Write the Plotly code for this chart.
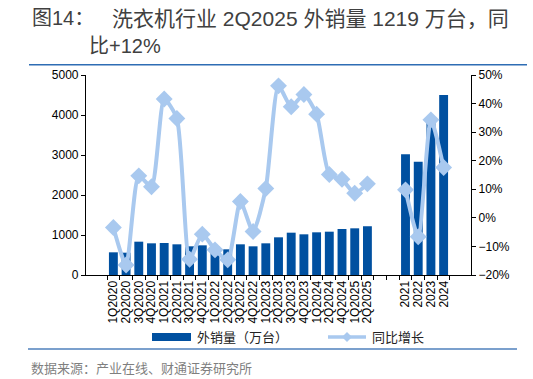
import plotly.graph_objects as go

categories = ["1Q2020", "2Q2020", "3Q2020", "4Q2020", "1Q2021", "2Q2021", "3Q2021", "4Q2021",
              "1Q2022", "2Q2022", "3Q2022", "4Q2022", "1Q2023", "2Q2023", "3Q2023", "4Q2023",
              "1Q2024", "2Q2024", "4Q2024", "1Q2025", "2Q2025", " ", "  ",
              "2021", "2022", "2023", "2024"]

export_volume = [567, 558, 833, 792, 800, 767, 717, 742,
                 708, 642, 767, 717, 792, 942, 1058, 1017,
                 1067, 1083, 1150, 1167, 1219, None, None,
                 3017, 2833, 3890, 4500]

yoy_growth = [-3.4, -16.5, 14.7, 10.9, 41.6, 34.8, -14.5, -5.7,
              -11.2, -14.7, 5.7, -4.8, 10.3, 46.2, 38.9, 43.2,
              36.3, 15.2, 13.5, 8.6, 11.9, None, None,
              9.8, -6.6, 34.3, 17.6]

bar_name = "外销量（万台）"
line_name = "同比增长"
title_lead = "图14："
title_line1 = "洗衣机行业 2Q2025 外销量 1219 万台，同"
title_line2 = "比+12%"
source_text = "数据来源：产业在线、财通证券研究所"

BAR_COLOR = "#0050A0"
LINE_COLOR = "#A9C9EF"
FONT = "Liberation Sans, Arial, Noto Sans CJK SC, sans-serif"
CJK = "Liberation Sans, Noto Sans CJK SC, sans-serif"

W, H = 533, 379
L, R, T, B = 86, 62, 75, 104
PW, PH = W - L - R, H - T - B


def px(x):
    return (x - L) / PW


def py(y):
    return (T + PH - y) / PH


fig = go.Figure()
fig.add_trace(go.Bar(x=categories, y=export_volume, name=bar_name,
                     marker=dict(color=BAR_COLOR, line=dict(width=0)),
                     width=0.7, yaxis="y", showlegend=False))
fig.add_trace(go.Scatter(x=categories, y=[None if v is None else v / 100 for v in yoy_growth],
                         name=line_name, mode="lines+markers", yaxis="y2",
                         line=dict(color=LINE_COLOR, width=4, shape="spline", smoothing=0.6),
                         marker=dict(symbol="diamond", size=13, color=LINE_COLOR),
                         connectgaps=False, showlegend=False))

shapes = [
    dict(type="line", xref="paper", yref="paper", x0=px(29), x1=px(527), y0=py(64.7), y1=py(64.7),
         line=dict(color="#2E6DB4", width=1.5)),
    dict(type="line", xref="paper", yref="paper", x0=px(28), x1=px(517), y0=py(349), y1=py(349),
         line=dict(color="#4F81BD", width=1.5)),
    dict(type="rect", xref="paper", yref="paper", x0=px(152), x1=px(191), y0=py(341), y1=py(333),
         fillcolor=BAR_COLOR, line=dict(width=0)),
    dict(type="line", xref="paper", yref="paper", x0=px(328), x1=px(366), y0=py(337), y1=py(337),
         line=dict(color=LINE_COLOR, width=3.5)),
    dict(type="path", xref="paper", yref="paper",
         path=f"M {px(347)},{py(332)} L {px(352)},{py(337)} L {px(347)},{py(342)} L {px(342)},{py(337)} Z",
         fillcolor=LINE_COLOR, line=dict(width=0)),
]

annotations = [
    dict(text=title_lead, x=px(30), y=py(18), xref="paper", yref="paper", xanchor="left", yanchor="middle",
         showarrow=False, font=dict(family=CJK, size=20, color="#404040")),
    dict(text=title_line1, x=px(110), y=py(18), xref="paper", yref="paper", xanchor="left", yanchor="middle",
         showarrow=False, font=dict(family=CJK, size=21, color="#404040")),
    dict(text=title_line2, x=px(87), y=py(46), xref="paper", yref="paper", xanchor="left", yanchor="middle",
         showarrow=False, font=dict(family=CJK, size=20, color="#404040")),
    dict(text=bar_name, x=px(195), y=py(337), xref="paper", yref="paper", xanchor="left", yanchor="middle",
         showarrow=False, font=dict(family=CJK, size=13, color="#222222")),
    dict(text=line_name, x=px(370), y=py(337), xref="paper", yref="paper", xanchor="left", yanchor="middle",
         showarrow=False, font=dict(family=CJK, size=13, color="#222222")),
    dict(text=source_text, x=px(29), y=py(368), xref="paper", yref="paper", xanchor="left", yanchor="middle",
         showarrow=False, font=dict(family=CJK, size=13, color="#7F7F7F")),
]

fig.update_layout(
    width=W, height=H,
    margin=dict(l=L, r=R, t=T, b=B, pad=0),
    paper_bgcolor="white", plot_bgcolor="white",
    bargap=0.3,
    font=dict(family=FONT, size=12, color="#000000"),
    xaxis=dict(type="category", categoryorder="array", categoryarray=categories,
               tickmode="array", tickvals=categories, ticktext=categories,
               showline=True, linecolor="#000000", linewidth=1.2,
               ticks="outside", ticklen=4, tickcolor="#000000", tickson="boundaries",
               tickangle=-90, tickfont=dict(size=12, family=FONT, color="#000000"),
               showgrid=False, zeroline=False, fixedrange=True),
    yaxis=dict(range=[0, 5000], dtick=1000, showline=True, linecolor="#000000", linewidth=1.2,
               ticks="outside", ticklen=4, tickcolor="#000000", showgrid=False, zeroline=False,
               tickfont=dict(size=12, family=FONT, color="#000000")),
    yaxis2=dict(range=[-0.2, 0.5], dtick=0.1, tickformat=".0%", overlaying="y", side="right",
                showline=True, linecolor="#000000", linewidth=1.2,
                ticks="outside", ticklen=4, tickcolor="#000000", showgrid=False, zeroline=False,
                tickfont=dict(size=12, family=FONT, color="#000000")),
    shapes=shapes,
    annotations=annotations,
    showlegend=False,
)

fig.write_html("out.html")
